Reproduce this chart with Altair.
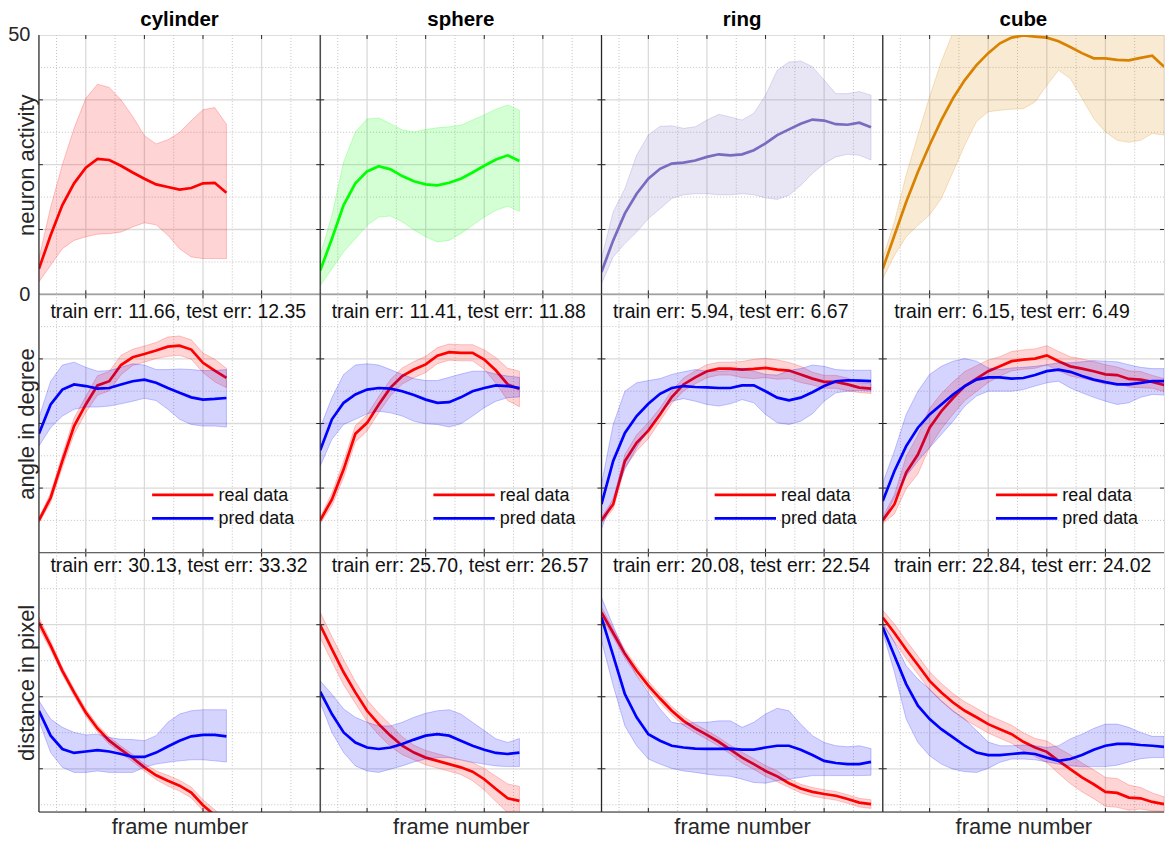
import altair as alt
import pandas as pd

FONT = "Liberation Sans"
INK = "#262626"
GRID_MAJOR = "#dadada"
GRID_MINOR = "#c2c2c2"
BORDER_LIGHT = "#d2d2d2"

OBJECTS = ["cylinder", "sphere", "ring", "cube"]
LAST_FRAME = [34, 36, 48, 50]
ACT_COLORS = ["#ff0000", "#00ff00", "#786cc0", "#d98200"]
REAL_COLOR = "#ff0000"
PRED_COLOR = "#0000ff"
LEGEND_LABELS = ["real data", "pred data"]

ROW_Y_TITLES = ["neuron activity", "angle in degree", "distance in pixel"]
X_TITLE = "frame number"
X_DOMAIN = [2, 50]
X_MAJOR = [10, 20, 30, 40]
X_MINOR = [5, 15, 25, 35, 45]
ROW_Y_DOMAIN = [[0, 50], [0, 80], [8, 80]]
ROW_Y_MAJOR = [[12.5, 25, 37.5], [20, 40, 60], [20, 40, 60]]
ROW_Y_MINOR = [[6.25, 18.75, 31.25, 43.75], [10, 30, 50, 70], [10, 30, 50, 70]]
ACT_LABEL_VALUES = [0, 50]

ANGLE_TRAIN_ERR = [11.66, 11.41, 5.94, 6.15]
ANGLE_TEST_ERR = [12.35, 11.88, 6.67, 6.49]
DIST_TRAIN_ERR = [30.13, 25.70, 20.08, 22.84]
DIST_TEST_ERR = [33.32, 26.57, 22.54, 24.02]

# ---------------- neuron activity ----------------
cyl_act_mean = [4.9, 11.4, 17.2, 21.4, 24.4, 26.1, 25.9, 24.8, 23.5, 22.3, 21.2, 20.7, 20.2, 20.5, 21.4, 21.5, 19.6]
cyl_act_hi = [6.9, 16.8, 25.0, 32.0, 37.8, 40.5, 39.9, 37.5, 34.3, 30.6, 29.0, 29.8, 31.2, 33.5, 35.6, 36.0, 32.8]
cyl_act_lo = [2.4, 5.6, 8.8, 10.4, 11.1, 11.6, 11.7, 12.0, 13.0, 13.8, 13.4, 11.4, 8.8, 7.2, 6.9, 6.9, 6.9]

sph_act_mean = [4.6, 10.7, 17.2, 21.4, 23.7, 24.7, 24.1, 22.8, 21.8, 21.2, 21.0, 21.5, 22.3, 23.5, 24.8, 26.0, 26.8, 25.7]
sph_act_hi = [7.5, 15.2, 25.5, 31.3, 33.8, 34.0, 32.9, 31.7, 31.3, 31.8, 32.1, 32.3, 32.6, 33.6, 34.6, 35.7, 36.5, 35.5]
sph_act_lo = [1.7, 4.9, 8.2, 10.7, 13.3, 14.9, 15.1, 14.0, 12.4, 11.1, 10.1, 10.4, 11.7, 13.3, 14.9, 16.2, 17.0, 16.0]

ring_act_mean = [4.3, 10.4, 15.6, 19.4, 22.3, 24.2, 25.2, 25.4, 25.8, 26.5, 27.0, 26.8, 27.0, 27.8, 29.1, 30.7, 31.8, 32.9, 33.7, 33.5, 32.8, 32.7, 33.1, 32.2]
ring_act_hi = [6.9, 15.9, 20.4, 26.8, 30.7, 32.4, 32.5, 32.0, 32.3, 33.6, 34.7, 34.2, 33.6, 34.9, 38.4, 43.2, 44.8, 45.0, 43.9, 41.3, 38.7, 38.7, 39.1, 38.4]
ring_act_lo = [2.0, 7.2, 9.8, 12.0, 14.6, 16.5, 18.5, 19.2, 19.4, 19.4, 19.2, 19.2, 19.4, 19.2, 18.6, 18.3, 19.1, 21.0, 23.3, 25.2, 26.5, 27.0, 26.8, 25.9]

cube_act_mean = [4.9, 11.4, 17.8, 23.6, 28.8, 33.6, 37.8, 41.3, 44.2, 46.5, 48.4, 49.5, 49.9, 49.7, 49.5, 48.8, 47.7, 46.5, 45.5, 45.5, 45.2, 45.1, 45.6, 46.0, 43.9]
cube_act_hi = [6.9, 14.0, 23.0, 30.7, 38.1, 44.9, 50.5, 54.0, 57.0, 59.0, 60.0, 61.0, 61.0, 60.0, 59.0, 58.0, 58.0, 58.0, 58.0, 58.0, 58.0, 58.0, 58.0, 58.0, 57.0]
cube_act_lo = [3.0, 7.5, 11.1, 13.3, 15.3, 18.5, 23.6, 28.8, 33.3, 35.2, 35.5, 35.7, 35.8, 37.1, 40.3, 43.2, 41.6, 37.8, 33.9, 31.3, 29.7, 29.3, 29.7, 31.0, 30.7]

# ---------------- angle in degree ----------------
cyl_ang_real = [10.0, 17.0, 28.4, 39.2, 45.9, 51.8, 53.1, 58.1, 60.5, 61.5, 62.6, 63.8, 64.1, 62.9, 58.8, 56.4, 54.1]
cyl_ang_real_lo = [9.2, 15.5, 26.4, 36.7, 43.4, 48.8, 50.1, 55.1, 58.0, 59.0, 60.1, 60.8, 61.1, 59.9, 55.8, 52.9, 51.1]
cyl_ang_real_hi = [10.8, 18.5, 30.4, 41.7, 48.4, 54.8, 56.1, 61.1, 63.0, 64.0, 65.1, 66.8, 67.1, 65.9, 61.8, 59.9, 57.1]
cyl_ang_pred = [36.8, 45.9, 50.5, 52.1, 51.6, 50.8, 51.0, 52.1, 53.1, 53.6, 52.6, 51.0, 49.5, 48.1, 47.4, 47.6, 47.9]
cyl_ang_pred_hi = [41.8, 53.1, 58.1, 59.0, 57.4, 56.2, 56.4, 57.4, 58.5, 58.1, 56.7, 56.7, 56.9, 56.7, 56.4, 56.4, 56.7]
cyl_ang_pred_lo = [33.0, 38.7, 42.3, 44.4, 45.1, 45.1, 45.4, 46.1, 46.9, 47.8, 47.1, 44.4, 41.3, 39.7, 39.2, 39.2, 38.9]

sph_ang_real = [10.0, 16.5, 25.8, 36.8, 40.2, 45.9, 51.1, 54.7, 56.7, 58.3, 61.0, 62.1, 61.9, 61.9, 59.8, 56.4, 52.1, 50.7]
sph_ang_real_lo = [9.0, 14.5, 23.3, 34.3, 37.7, 43.4, 48.6, 52.2, 54.2, 55.8, 58.5, 59.6, 59.4, 59.4, 56.8, 52.4, 47.1, 45.2]
sph_ang_real_hi = [11.0, 18.5, 28.3, 39.3, 42.7, 48.4, 53.6, 57.2, 59.2, 60.8, 63.5, 64.6, 64.4, 64.4, 62.8, 60.4, 57.1, 56.2]
sph_ang_pred = [31.7, 41.3, 46.4, 49.0, 50.5, 51.0, 50.8, 50.0, 48.8, 47.4, 46.4, 46.6, 48.1, 50.0, 51.0, 51.8, 51.6, 51.0]
sph_ang_pred_hi = [38.7, 48.0, 55.2, 58.1, 58.5, 58.1, 56.7, 55.2, 53.9, 53.3, 53.3, 54.3, 55.3, 56.2, 56.2, 55.3, 54.7, 54.3]
sph_ang_pred_lo = [26.8, 35.1, 39.7, 41.3, 43.0, 43.8, 43.3, 42.3, 40.7, 39.9, 39.7, 38.9, 39.9, 42.3, 44.9, 46.9, 48.0, 48.2]

ring_ang_real = [10.0, 15.0, 28.4, 34.0, 37.8, 42.8, 48.2, 52.1, 54.3, 56.2, 57.0, 57.0, 56.7, 56.9, 57.2, 56.7, 56.4, 55.2, 53.9, 52.9, 52.9, 52.1, 51.1, 50.8]
ring_ang_real_lo = [9.0, 13.5, 26.4, 31.5, 35.3, 40.8, 46.2, 50.1, 52.3, 54.2, 55.0, 55.0, 54.2, 53.9, 54.2, 53.7, 53.9, 52.7, 51.9, 50.9, 50.9, 50.1, 49.6, 49.3]
ring_ang_real_hi = [11.0, 16.5, 30.4, 36.5, 40.3, 44.8, 50.2, 54.1, 56.3, 58.2, 59.0, 59.0, 59.2, 59.9, 60.2, 59.7, 58.9, 57.7, 55.9, 54.9, 54.9, 54.1, 52.6, 52.3]
ring_ang_pred = [15.0, 28.4, 37.1, 42.3, 46.1, 49.2, 51.0, 51.6, 51.3, 51.2, 51.0, 51.0, 51.8, 51.8, 50.0, 48.0, 47.2, 48.0, 49.7, 51.6, 53.1, 53.4, 53.3, 53.1]
ring_ang_pred_hi = [21.2, 39.7, 50.0, 52.6, 53.3, 53.9, 55.2, 56.0, 56.7, 56.2, 56.2, 56.4, 57.0, 56.2, 55.2, 55.0, 56.4, 57.0, 58.1, 57.7, 56.7, 56.5, 56.5, 56.5]
ring_ang_pred_lo = [7.3, 17.0, 25.8, 32.5, 38.2, 43.3, 46.9, 47.7, 46.9, 45.9, 45.4, 46.1, 47.4, 46.4, 42.8, 40.2, 39.7, 40.7, 43.0, 46.9, 49.5, 50.0, 50.2, 50.0]

cube_ang_real = [10.0, 15.0, 24.8, 30.4, 38.7, 43.8, 47.9, 51.6, 53.9, 56.2, 57.7, 59.3, 59.8, 60.1, 61.1, 59.3, 57.7, 57.0, 56.2, 55.2, 55.0, 53.8, 53.6, 52.9, 51.9]
cube_ang_real_lo = [9.0, 12.0, 19.8, 24.4, 32.7, 38.3, 42.9, 47.1, 49.9, 52.7, 54.7, 56.3, 56.8, 57.1, 58.1, 56.3, 54.7, 54.0, 53.2, 52.2, 52.5, 51.3, 51.1, 50.9, 49.9]
cube_ang_real_hi = [11.0, 18.0, 29.8, 36.4, 44.7, 49.3, 52.9, 56.1, 57.9, 59.7, 60.7, 62.3, 62.8, 63.1, 64.1, 62.3, 60.7, 60.0, 59.2, 58.2, 57.5, 56.3, 56.1, 54.9, 53.9]
cube_ang_pred = [16.0, 25.3, 33.0, 38.7, 42.8, 45.9, 49.0, 51.6, 53.6, 54.3, 54.3, 53.9, 54.1, 55.0, 56.2, 56.7, 56.0, 54.7, 53.6, 52.8, 52.1, 52.1, 52.6, 53.1, 53.1]
cube_ang_pred_hi = [21.6, 31.5, 42.8, 50.0, 55.2, 57.7, 59.3, 60.1, 59.3, 57.2, 56.7, 57.2, 57.4, 57.7, 58.2, 58.8, 58.8, 59.1, 59.5, 59.3, 59.1, 58.2, 57.4, 57.0, 57.0]
cube_ang_pred_lo = [9.8, 17.0, 23.7, 28.4, 32.5, 36.6, 40.7, 45.4, 48.5, 50.0, 50.0, 50.0, 50.5, 51.6, 52.6, 53.1, 51.0, 49.5, 48.1, 46.9, 45.9, 46.4, 48.1, 49.0, 48.8]

# ---------------- distance in pixel ----------------
cyl_dist_real = [60.6, 54.2, 47.2, 41.2, 35.6, 31.2, 27.8, 25.3, 23.0, 20.4, 18.2, 16.7, 15.3, 13.4, 9.9, 7.1, 4.5]
cyl_dist_real_lo = [59.1, 53.0, 46.2, 40.2, 34.6, 30.2, 26.8, 24.3, 22.0, 19.4, 17.0, 15.2, 13.8, 11.9, 8.4, 5.6, 3.0]
cyl_dist_real_hi = [62.1, 55.4, 48.2, 42.2, 36.6, 32.2, 28.8, 26.3, 24.0, 21.4, 19.4, 18.2, 16.8, 14.9, 11.4, 8.6, 6.0]
cyl_dist_pred = [36.1, 29.2, 25.5, 24.4, 24.8, 25.2, 24.8, 24.1, 23.3, 23.3, 24.5, 26.2, 27.8, 29.0, 29.4, 29.4, 29.0]
cyl_dist_pred_hi = [38.9, 33.8, 31.5, 30.1, 29.4, 29.6, 28.7, 28.2, 28.1, 27.8, 29.2, 32.9, 35.2, 36.1, 36.4, 36.4, 36.4]
cyl_dist_pred_lo = [33.3, 24.5, 20.4, 19.0, 19.0, 19.4, 19.0, 19.0, 19.0, 20.4, 21.3, 21.8, 22.2, 22.5, 22.5, 22.2, 21.9]

sph_dist_real = [59.9, 53.2, 46.8, 41.2, 36.1, 32.4, 29.2, 26.4, 24.5, 23.1, 22.2, 21.3, 20.4, 19.2, 17.1, 14.4, 11.8, 11.1]
sph_dist_real_lo = [56.4, 49.7, 43.3, 38.2, 33.1, 29.4, 26.2, 23.9, 22.5, 21.1, 20.2, 19.3, 18.4, 16.7, 14.1, 10.9, 7.8, 7.1]
sph_dist_real_hi = [63.4, 56.7, 50.3, 44.2, 39.1, 35.4, 32.2, 28.9, 26.5, 25.1, 24.2, 23.3, 22.4, 21.7, 20.1, 17.9, 15.8, 15.1]
sph_dist_pred = [41.4, 35.2, 30.1, 27.3, 25.9, 25.5, 25.9, 26.9, 28.1, 29.2, 29.6, 29.2, 27.8, 26.4, 25.3, 24.4, 24.1, 24.5]
sph_dist_pred_hi = [44.4, 40.7, 36.6, 34.3, 32.9, 31.9, 31.9, 32.9, 34.3, 35.4, 36.1, 36.4, 35.2, 32.9, 30.6, 28.3, 27.3, 28.4]
sph_dist_pred_lo = [38.4, 30.1, 24.5, 20.8, 19.4, 19.0, 19.9, 20.8, 21.9, 22.7, 23.1, 23.1, 22.5, 21.8, 21.3, 20.8, 20.6, 20.6]

ring_dist_real = [63.4, 57.7, 51.9, 47.2, 43.1, 39.5, 36.1, 33.3, 31.2, 29.4, 27.5, 25.3, 23.1, 21.3, 19.4, 17.9, 16.0, 14.5, 13.6, 13.0, 12.5, 11.6, 10.6, 10.2]
ring_dist_real_lo = [61.9, 56.5, 50.7, 46.0, 41.9, 38.3, 34.9, 32.1, 30.0, 28.2, 26.3, 24.1, 21.6, 19.8, 17.9, 16.4, 14.8, 13.3, 12.4, 11.8, 11.3, 10.4, 9.4, 9.0]
ring_dist_real_hi = [64.9, 58.9, 53.1, 48.4, 44.3, 40.7, 37.3, 34.5, 32.4, 30.6, 28.7, 26.5, 24.6, 22.8, 20.9, 19.4, 17.2, 15.7, 14.8, 14.2, 13.7, 12.8, 11.8, 11.4]
ring_dist_pred = [62.0, 51.4, 40.7, 34.3, 29.6, 27.8, 26.4, 25.9, 25.6, 25.5, 25.5, 25.6, 25.3, 25.3, 25.9, 26.4, 26.4, 25.3, 23.8, 22.2, 21.6, 21.3, 21.3, 21.9]
ring_dist_pred_hi = [67.6, 59.7, 52.3, 45.8, 41.2, 36.6, 32.9, 32.4, 32.9, 32.9, 33.3, 33.3, 31.5, 32.9, 35.2, 36.8, 36.1, 32.4, 29.2, 27.3, 26.4, 26.1, 26.4, 25.6]
ring_dist_pred_lo = [55.6, 43.1, 31.9, 26.4, 22.7, 21.3, 20.1, 19.4, 19.0, 18.5, 18.1, 17.9, 17.1, 16.2, 16.0, 16.7, 17.1, 17.6, 18.1, 18.1, 18.1, 18.1, 18.1, 18.2]

cube_dist_real = [62.0, 57.7, 53.1, 48.8, 44.4, 41.2, 38.4, 36.1, 34.3, 32.4, 31.0, 29.6, 27.5, 25.9, 24.7, 22.2, 19.9, 17.6, 15.7, 13.6, 13.3, 12.0, 11.8, 10.8, 10.2]
cube_dist_real_lo = [60.0, 55.2, 50.6, 46.3, 41.9, 38.7, 35.9, 33.6, 31.8, 29.9, 28.5, 27.1, 25.0, 23.4, 21.7, 18.7, 15.9, 13.6, 11.7, 9.6, 9.3, 8.5, 8.8, 8.3, 8.2]
cube_dist_real_hi = [64.0, 60.2, 55.6, 51.3, 46.9, 43.7, 40.9, 38.6, 36.8, 34.9, 33.5, 32.1, 30.0, 28.4, 27.7, 25.7, 23.9, 21.6, 19.7, 17.6, 17.3, 15.5, 14.8, 13.3, 12.2]
cube_dist_pred = [59.3, 51.4, 43.5, 37.5, 33.8, 31.0, 28.7, 26.4, 24.5, 23.8, 23.8, 24.1, 24.4, 24.1, 23.1, 22.2, 22.7, 23.8, 25.3, 26.4, 26.9, 26.9, 26.6, 26.4, 26.1]
cube_dist_pred_hi = [60.6, 55.1, 48.6, 44.9, 42.1, 38.9, 36.1, 33.8, 30.6, 27.4, 26.4, 26.4, 26.6, 26.4, 25.9, 26.4, 28.3, 29.6, 31.2, 32.4, 32.4, 31.5, 30.1, 29.0, 29.0]
cube_dist_pred_lo = [57.9, 46.8, 33.8, 27.3, 23.6, 21.3, 19.9, 19.2, 19.0, 20.1, 21.8, 22.7, 22.7, 22.5, 21.9, 21.3, 20.8, 20.6, 20.6, 20.6, 21.0, 21.9, 22.8, 23.1, 23.1]

ACT = [
    (cyl_act_mean, cyl_act_lo, cyl_act_hi),
    (sph_act_mean, sph_act_lo, sph_act_hi),
    (ring_act_mean, ring_act_lo, ring_act_hi),
    (cube_act_mean, cube_act_lo, cube_act_hi),
]
ANG = [
    (cyl_ang_real, cyl_ang_real_lo, cyl_ang_real_hi, cyl_ang_pred, cyl_ang_pred_lo, cyl_ang_pred_hi),
    (sph_ang_real, sph_ang_real_lo, sph_ang_real_hi, sph_ang_pred, sph_ang_pred_lo, sph_ang_pred_hi),
    (ring_ang_real, ring_ang_real_lo, ring_ang_real_hi, ring_ang_pred, ring_ang_pred_lo, ring_ang_pred_hi),
    (cube_ang_real, cube_ang_real_lo, cube_ang_real_hi, cube_ang_pred, cube_ang_pred_lo, cube_ang_pred_hi),
]
DIST = [
    (cyl_dist_real, cyl_dist_real_lo, cyl_dist_real_hi, cyl_dist_pred, cyl_dist_pred_lo, cyl_dist_pred_hi),
    (sph_dist_real, sph_dist_real_lo, sph_dist_real_hi, sph_dist_pred, sph_dist_pred_lo, sph_dist_pred_hi),
    (ring_dist_real, ring_dist_real_lo, ring_dist_real_hi, ring_dist_pred, ring_dist_pred_lo, ring_dist_pred_hi),
    (cube_dist_real, cube_dist_real_lo, cube_dist_real_hi, cube_dist_pred, cube_dist_pred_lo, cube_dist_pred_hi),
]

W = 282
ROW_H = [260, 259, 260]
NOTE_Y = [None, 23.5, 19.5]
TICK = 4


def frames(col):
    return list(range(2, LAST_FRAME[col] + 1, 2))


def make_panel(row, col, items, note=None, legend=False):
    h = ROW_H[row]
    xs = alt.Scale(domain=X_DOMAIN, nice=False, zero=False)
    ys = alt.Scale(domain=ROW_Y_DOMAIN[row], nice=False, zero=False)

    if col == 0:
        kw = dict(grid=False, domain=False, ticks=False, tickSize=0,
                  title=ROW_Y_TITLES[row], titleFont=FONT, titleFontSize=22,
                  titleFontWeight="normal", titleColor=INK, titleAngle=270,
                  titleX=-5, titleY=h / 2, titleBaseline="alphabetic", titleAlign="center")
        if row == 0:
            kw.update(values=ACT_LABEL_VALUES, labels=True, labelFont=FONT, labelFontSize=20,
                      labelColor=INK, labelPadding=9, labelBaseline="middle")
        else:
            kw.update(labels=False)
        yaxis = alt.Axis(**kw)
    else:
        yaxis = None

    if row == 2:
        xaxis = alt.Axis(grid=False, domain=False, ticks=False, tickSize=0, labels=False,
                         title=X_TITLE, titleFont=FONT, titleFontSize=22, titleFontWeight="normal",
                         titleColor=INK, titleX=W / 2, titleY=21.5, titleBaseline="alphabetic",
                         titleAlign="center")
    else:
        xaxis = None

    def X(field):
        return alt.X(field, type="quantitative", scale=xs, axis=xaxis)

    def Y(field):
        return alt.Y(field, type="quantitative", scale=ys, axis=yaxis)

    layers = []
    layers.append(alt.Chart(pd.DataFrame({"g": X_MINOR})).mark_rule(
        color=GRID_MINOR, strokeDash=[1, 2], strokeWidth=1).encode(x=X("g")))
    layers.append(alt.Chart(pd.DataFrame({"g": ROW_Y_MINOR[row]})).mark_rule(
        color=GRID_MINOR, strokeDash=[1, 2], strokeWidth=1).encode(y=Y("g")))
    layers.append(alt.Chart(pd.DataFrame({"g": X_MAJOR})).mark_rule(
        color=GRID_MAJOR, strokeWidth=1.3).encode(x=X("g")))
    layers.append(alt.Chart(pd.DataFrame({"g": ROW_Y_MAJOR[row]})).mark_rule(
        color=GRID_MAJOR, strokeWidth=1.3).encode(y=Y("g")))

    fr = frames(col)
    for kind, vals, color in items:
        if kind == "band":
            lo, hi = vals
            df = pd.DataFrame({"f": fr, "lo": lo, "hi": hi})
            layers.append(alt.Chart(df).mark_area(
                color=color, fillOpacity=0.17, stroke=color, strokeOpacity=0.22,
                strokeWidth=1, clip=True).encode(x=X("f"), y=Y("lo"), y2=alt.Y2("hi")))
        else:
            df = pd.DataFrame({"f": fr, "v": vals})
            layers.append(alt.Chart(df).mark_line(
                color=color, strokeWidth=2.7, clip=True).encode(x=X("f"), y=Y("v")))

    xt = pd.DataFrame({"g": X_MAJOR})
    yt = pd.DataFrame({"g": ROW_Y_MAJOR[row]})
    layers.append(alt.Chart(xt).mark_rule(color=INK, strokeWidth=1).encode(
        x=X("g"), y=alt.value(0), y2=alt.value(TICK)))
    layers.append(alt.Chart(xt).mark_rule(color=INK, strokeWidth=1).encode(
        x=X("g"), y=alt.value(h - TICK), y2=alt.value(h)))
    layers.append(alt.Chart(yt).mark_rule(color=INK, strokeWidth=1).encode(
        y=Y("g"), x=alt.value(0), x2=alt.value(TICK)))
    layers.append(alt.Chart(yt).mark_rule(color=INK, strokeWidth=1).encode(
        y=Y("g"), x=alt.value(W - TICK), x2=alt.value(W)))

    one = pd.DataFrame({"k": [0]})
    layers.append(alt.Chart(one).mark_rule(color=INK, strokeWidth=1.2).encode(
        x=alt.value(0), y=alt.value(0), y2=alt.value(h)))
    layers.append(alt.Chart(one).mark_rule(color=INK, strokeWidth=1.2).encode(
        x=alt.value(0), x2=alt.value(W), y=alt.value(h)))

    if note is not None:
        layers.append(alt.Chart(pd.DataFrame({"t": [note]})).mark_text(
            align="left", baseline="alphabetic", font=FONT, fontSize=19.5, color="#111111"
        ).encode(x=alt.value(11.5), y=alt.value(NOTE_Y[row]), text="t:N"))

    if legend:
        for i, (lab, color) in enumerate(zip(LEGEND_LABELS, [REAL_COLOR, PRED_COLOR])):
            ly = 201 + i * 23.7
            layers.append(alt.Chart(one).mark_rule(color=color, strokeWidth=2.7).encode(
                x=alt.value(113.5), x2=alt.value(175), y=alt.value(ly)))
            layers.append(alt.Chart(pd.DataFrame({"t": [lab]})).mark_text(
                align="left", baseline="middle", font=FONT, fontSize=18, color="#111111"
            ).encode(x=alt.value(180), y=alt.value(ly + 1), text="t:N"))

    if row == 0:
        layers.append(alt.Chart(pd.DataFrame({"t": [OBJECTS[col]]})).mark_text(
            align="center", baseline="alphabetic", font=FONT, fontSize=20.5, fontWeight="bold",
            color="#000000").encode(x=alt.value(W / 2), y=alt.value(-9.2), text="t:N"))

    return alt.layer(*layers).properties(width=W, height=h)


panels = []
for c in range(4):
    mean, lo, hi = ACT[c]
    panels.append(make_panel(0, c, [("band", (lo, hi), ACT_COLORS[c]), ("line", mean, ACT_COLORS[c])]))

for r, (data, tr, te) in enumerate([(ANG, ANGLE_TRAIN_ERR, ANGLE_TEST_ERR), (DIST, DIST_TRAIN_ERR, DIST_TEST_ERR)], start=1):
    for c in range(4):
        real, rlo, rhi, pred, plo, phi = data[c]
        items = [("band", (rlo, rhi), REAL_COLOR), ("line", real, REAL_COLOR),
                 ("band", (plo, phi), PRED_COLOR), ("line", pred, PRED_COLOR)]
        note = f"train err: {tr[c]:.2f}, test err: {te[c]:.2f}"
        panels.append(make_panel(r, c, items, note=note, legend=(r == 1)))

chart = alt.concat(*panels, columns=4, spacing=0, bounds="flush").properties(
    padding={"left": -1, "top": 0, "right": 2, "bottom": 2}
).configure_view(stroke=BORDER_LIGHT, strokeWidth=1).configure(font=FONT)

chart.save("out.html", embed_options={"renderer": "svg", "actions": False})
